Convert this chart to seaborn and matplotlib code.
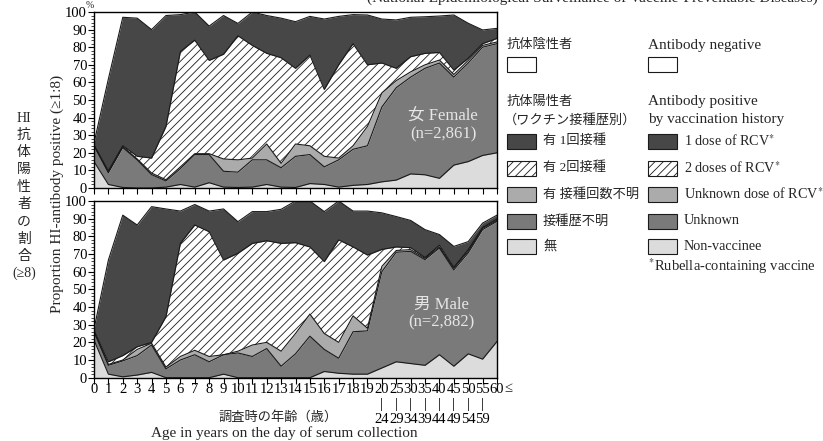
import numpy as np
import matplotlib.pyplot as plt
import seaborn as sns
from matplotlib.patches import Rectangle
from matplotlib.ticker import MultipleLocator

# age groups (x axis)
age_labels = ['0', '1', '2', '3', '4', '5', '6', '7', '8', '9', '10', '11', '12', '13', '14',
              '15', '16', '17', '18', '19', '20\n|\n24', '25\n|\n29', '30\n|\n34', '35\n|\n39',
              '40\n|\n44', '45\n|\n49', '50\n|\n54', '55\n|\n59', '60≤']

# cumulative proportion (%), bottom layer upwards
# female
f_nonvac = [15, 2, 0.3, 0, 0, 0.5, 2, 0.5, 3, 0.5, 0.3, 0.5, 2, 0.5, 0.3, 2.5, 2, 0.5, 1.5, 2,
            3.5, 4.5, 8, 7.5, 5.5, 13, 15, 18.5, 20]
f_unknown = [24, 8.7, 23, 16, 7.6, 4, 11, 19, 19, 9.5, 9, 16, 16, 11.5, 18, 19, 12, 16, 22, 24,
             46, 57, 63, 68, 71, 63, 71, 80, 82]
f_udose = [24.3, 9, 23.5, 16.5, 8.5, 4.7, 12, 19.5, 19.5, 16.5, 16, 17, 25, 14, 25, 24, 18, 17, 24, 35,
           54, 61, 66, 70, 72.7, 64.5, 72.5, 81, 83]
f_two = [24.5, 9.8, 24, 18, 17, 35, 77.5, 84, 72.5, 76, 86.5, 81, 76.5, 74, 68, 75.5, 56, 70, 82, 70,
         71, 68, 74.6, 76.5, 77, 67, 73.7, 82, 85]
f_one = [25.5, 62, 97, 96.5, 90, 98, 98.5, 100, 92, 98, 93.5, 100, 98, 96.5, 94.5, 97.5, 96, 97.5, 98.5, 98.3,
         96, 95.5, 97, 97.3, 97.7, 98.3, 93.6, 89.8, 90.7]

# male
m_nonvac = [21.3, 2, 0.5, 1.5, 3, 0, 0, 0, 0, 2, 0, 0, 0, 0, 0, 0, 3.5, 2.5, 2, 2,
            5.5, 9, 8, 7, 13, 6.5, 13.5, 10.5, 20.5]
m_unknown = [26, 7, 9.5, 12.5, 18.5, 5, 10, 13, 9, 13, 14, 12, 16.5, 6.5, 13.5, 23.5, 16, 11, 26, 26.5,
             60, 71, 71.5, 66.8, 73.4, 61, 70.6, 83.8, 88.5]
m_udose = [26.5, 7.5, 10, 16, 19.5, 6, 12, 15.5, 12, 13, 15, 18.5, 20, 15, 25, 36, 25, 20, 35, 28,
           63, 72, 72.5, 67.5, 74, 62, 71.5, 84.5, 89]
m_two = [27, 9, 12.5, 17.5, 20, 34.5, 76, 86.4, 82.6, 66.6, 70.4, 76, 77.5, 76, 76.4, 74, 65.7, 78, 74, 69.4,
         72.6, 74, 73.6, 68, 75, 62.5, 72.5, 85, 89.8]
m_one = [27.5, 66.6, 92, 86.4, 96.8, 95.5, 94.3, 98, 94.3, 95.5, 88.3, 94, 94, 95.3, 100, 100, 94, 100, 94.3, 94.3,
         93.3, 91.2, 89, 83.8, 81, 74.3, 77, 87.5, 92]

# layer styles: (facecolor, hatch)
layer_styles = [('#dcdcdc', None), ('#7a7a7a', None), ('#ababab', None), ('white', '////'), ('#474747', None)]

sns.set_theme(style="ticks")
plt.rcParams['font.family'] = ['Liberation Serif', 'Noto Sans CJK JP', 'DejaVu Sans']
plt.rcParams['mathtext.fontset'] = 'stix'
plt.rcParams['hatch.linewidth'] = 0.6

fig = plt.figure(figsize=(8.23, 4.41), dpi=100)
W, H = 823, 441
ax_f = fig.add_axes([94 / W, 1 - 188 / H, 403 / W, 176 / H])
ax_m = fig.add_axes([94 / W, 1 - 377.7 / H, 403 / W, 176.7 / H])


def draw_panel(ax, tops):
    x = np.arange(len(age_labels))
    lower = np.zeros(len(x))
    for top, (face, hatch) in zip(tops, layer_styles):
        top = np.asarray(top, dtype=float)
        ax.fill_between(x, lower, top, facecolor=face, hatch=hatch, edgecolor='#1a1a1a', linewidth=0)
        sns.lineplot(x=x, y=top, ax=ax, color='#1a1a1a', linewidth=0.8)
        lower = top
    ax.set_xlim(0, len(x) - 1)
    ax.set_ylim(0, 100)
    ax.set_xticks(x)
    ax.set_yticks(range(0, 101, 10))
    ax.yaxis.set_minor_locator(MultipleLocator(2))
    ax.tick_params(axis='both', which='major', direction='out', length=4, width=0.8,
                   labelsize=10.5, colors='black', pad=1)
    ax.tick_params(axis='y', which='minor', direction='out', length=2, width=0.6)
    for sp in ax.spines.values():
        sp.set_color('black')
        sp.set_linewidth(1.0)
    ax.set_xlabel('')
    ax.set_ylabel('')


draw_panel(ax_f, [f_nonvac, f_unknown, f_udose, f_two, f_one])
draw_panel(ax_m, [m_nonvac, m_unknown, m_udose, m_two, m_one])
ax_f.set_xticklabels([])
# "60≤": the number sits on its tick, the sign hangs to the right
shown_labels = age_labels[:-1] + [age_labels[-1].rstrip('≤')]
ax_m.set_xticklabels(shown_labels, fontsize=10.5, va='top')
ax_m.tick_params(axis='x', pad=0)

# overlay in pixel coordinates for text and legend
ov = fig.add_axes([0, 0, 1, 1])
ov.set_xlim(0, W)
ov.set_ylim(H, 0)
ov.axis('off')
ov.patch.set_alpha(0)

ov.text(504, 388, '≤', ha='left', va='center', fontsize=10.5)

ov.text(818, 2, '(National Epidemiological Surveillance of Vaccine-Preventable Diseases)',
        ha='right', va='baseline', fontsize=11)
ov.text(90, 5, '%', ha='center', va='center', fontsize=7)

# panel labels
ov.text(443, 117, '女 Female', ha='center', va='center', fontsize=12, color='#e6e6e6')
ov.text(443, 134, '(n=2,861)', ha='center', va='center', fontsize=12, color='#e6e6e6')
ov.text(441, 305, '男 Male', ha='center', va='center', fontsize=12, color='#e6e6e6')
ov.text(441, 322, '(n=2,882)', ha='center', va='center', fontsize=12, color='#e6e6e6')

# y labels
ov.text(57, 194, 'Proportion HI-antibody positive (≥1:8)', rotation=90,
        ha='center', va='center', fontsize=11)
jp_ylabel = ['HI', '抗', '体', '陽', '性', '者', 'の', '割', '合', '(≥8)']
for k, ch in enumerate(jp_ylabel):
    ov.text(24, 118 + 17.3 * k, ch, ha='center', va='center', fontsize=10)

# x labels
ov.text(278, 417, '調査時の年齢（歳）', ha='center', va='center', fontsize=9.5)
ov.text(284, 433, 'Age in years on the day of serum collection', ha='center', va='center', fontsize=11)

# legend
jp_x, en_x = 507, 648
ov.text(jp_x, 45, '抗体陰性者', va='center', fontsize=9.5)
ov.text(en_x, 45, 'Antibody negative', va='center', fontsize=11)
for bx in (jp_x, en_x):
    ov.add_patch(Rectangle((bx, 57), 29, 15, facecolor='white', edgecolor='#1a1a1a', lw=0.8))

ov.text(jp_x, 102, '抗体陽性者', va='center', fontsize=9.5)
ov.text(jp_x - 3, 120, '（ワクチン接種歴別）', va='center', fontsize=9.5)
ov.text(en_x, 102, 'Antibody positive', va='center', fontsize=11)
ov.text(en_x, 120, 'by vaccination history', va='center', fontsize=11)

legend_jp = ['有 1回接種', '有 2回接種', '有 接種回数不明', '接種歴不明', '無']
legend_en = ['1 dose of RCV$^{*}$', '2 doses of RCV$^{*}$', 'Unknown dose of RCV$^{*}$', 'Unknown', 'Non-vaccinee']
legend_styles = [layer_styles[4], layer_styles[3], layer_styles[2], layer_styles[1], layer_styles[0]]
row_y = [141, 168, 194, 221, 246]
for y, jp, en, (face, hatch) in zip(row_y, legend_jp, legend_en, legend_styles):
    for bx in (jp_x, en_x):
        ov.add_patch(Rectangle((bx, y - 7.5), 29, 15, facecolor=face, hatch=hatch,
                               edgecolor='#1a1a1a', lw=0.8))
    ov.text(jp_x + 36, y, jp, va='center', fontsize=9.5)
    ov.text(en_x + 36, y, en, va='center', fontsize=10.2)
ov.text(en_x, 266, '$^{*}$Rubella-containing vaccine', va='center', fontsize=10.5)

fig.savefig('out.png', dpi=100)
